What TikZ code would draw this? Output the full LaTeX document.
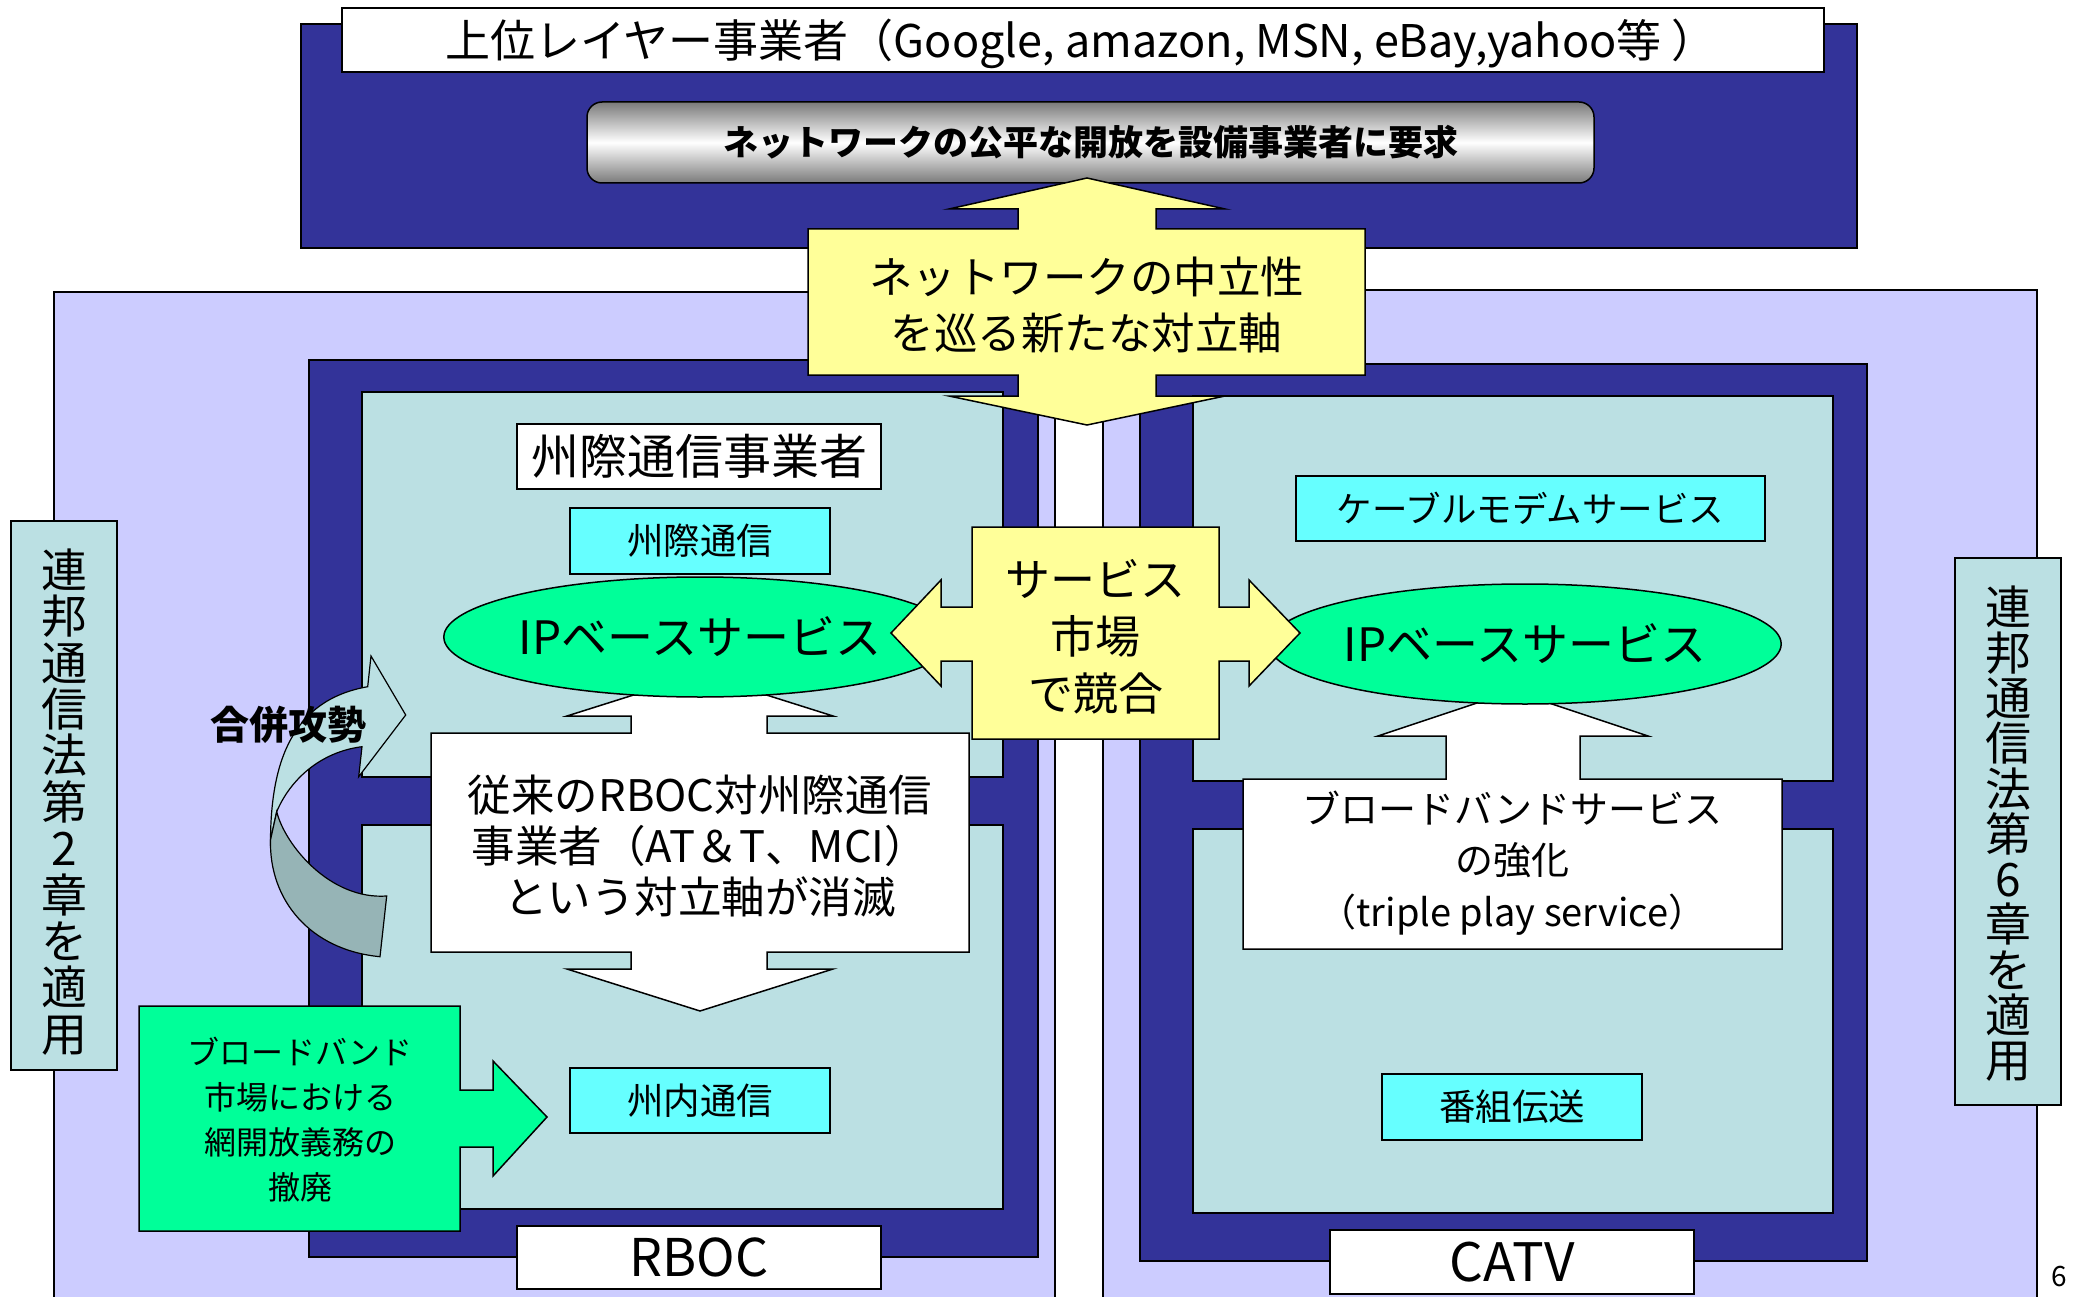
\documentclass[tikz,border=0pt]{standalone}
\usepackage{fontspec}
\newfontfamily\jp{Noto Sans CJK JP}
\usetikzlibrary{shapes.geometric}
\definecolor{dkblue}{HTML}{333399}
\definecolor{lav}{HTML}{CCCCFF}
\definecolor{tealbg}{HTML}{BBE0E3}
\definecolor{cyanbox}{HTML}{66FFFF}
\definecolor{grn}{HTML}{00FF99}
\definecolor{yel}{HTML}{FFFF99}
\definecolor{arrdark}{HTML}{96B4B6}
\definecolor{gradgray}{HTML}{7A7A7A}
\begin{document}
\begin{tikzpicture}[x=1pt,y=-1pt,
  bx/.style={draw=black,line width=1.5pt,inner sep=0pt,outer sep=0pt},
  shp/.style={draw=black,line width=1.5pt,line join=miter},
  fs/.style 2 args={font=\jp\fontsize{#1}{#2}\selectfont},
  txt/.style={align=center,inner sep=0pt}]
\useasboundingbox (0,0) rectangle (2078,1297);
\fill[white] (0,0) rectangle (2078,1297);

% top area
\node[bx,fill=dkblue,minimum width=1556pt,minimum height=224pt] (top) at (1079,136) {};
\node[bx,fill=white,minimum width=1482pt,minimum height=64pt] (hdr) at (1083,40) {};
\node[txt,fs={45}{50}] (hdrt) at (1081,44) {上位レイヤー事業者（Google, amazon, MSN, eBay,yahoo等 ）};
\node[bx,rounded corners=15pt,top color=gradgray,bottom color=gradgray,middle color=white,minimum width=1007pt,minimum height=81pt,fs={35}{40}] (demand) at (1090.5,142.5) {\bfseries ネットワークの公平な開放を設備事業者に要求};

% lavender areas
\node[bx,fill=lav,minimum width=1001pt,minimum height=1008pt] (lavL) at (554.5,796) {};
\node[bx,fill=lav,minimum width=934pt,minimum height=1010pt] (lavR) at (1570,795) {};

% RBOC / CATV frames
\node[bx,fill=dkblue,minimum width=729pt,minimum height=897pt] (rbocD) at (673.5,808.5) {};
\node[bx,fill=dkblue,minimum width=727pt,minimum height=897pt] (catvD) at (1503.5,812.5) {};
\node[bx,fill=tealbg,minimum width=641pt,minimum height=385pt] (rbocU) at (682.5,584.5) {};
\node[bx,fill=tealbg,minimum width=641pt,minimum height=384pt] (rbocL) at (682.5,1017) {};
\node[bx,fill=tealbg,minimum width=640pt,minimum height=385pt] (catvU) at (1513,588.5) {};
\node[bx,fill=tealbg,minimum width=640pt,minimum height=384pt] (catvL) at (1513,1021) {};

% side vertical boxes
\node[bx,fill=tealbg,minimum width=106pt,minimum height=549pt] (vL) at (64,795.5) {};
\node[txt,fs={46}{46.4}] (vLt) at (64,802) {連\\邦\\通\\信\\法\\第\\2\\章\\を\\適\\用};
\node[bx,fill=tealbg,minimum width=106pt,minimum height=547pt] (vR) at (2008,831.5) {};
\node[txt,fs={46}{45.3}] (vRt) at (2008,834) {連\\邦\\通\\信\\法\\第\\6\\章\\を\\適\\用};

% labels inside
\node[bx,fill=white,minimum width=364pt,minimum height=65pt,fs={48}{50}] (ixc) at (699,456.5) {州際通信事業者};
\node[bx,fill=cyanbox,minimum width=260pt,minimum height=66pt,fs={36.5}{40}] (ixcy) at (700,541) {州際通信};
\node[bx,fill=cyanbox,minimum width=260pt,minimum height=65pt,fs={36.5}{40}] (intra) at (700,1100.5) {州内通信};
\node[bx,fill=cyanbox,minimum width=469pt,minimum height=65pt,fs={35.5}{40}] (cable) at (1530.5,508.5) {ケーブルモデムサービス};
\node[bx,fill=cyanbox,minimum width=260pt,minimum height=66pt,fs={36.5}{40}] (prog) at (1512,1107) {番組伝送};

% white arrow (RBOC)
\draw[shp,fill=white] (431,733) -- (631,733) -- (631,716) -- (567,716) -- (700,674) -- (833,716) -- (767,716) -- (767,733) -- (969,733) -- (969,952) -- (767,952) -- (767,969) -- (833,969) -- (700,1011) -- (567,969) -- (631,969) -- (631,952) -- (431,952) -- cycle;
\node[txt,fs={43.5}{51}] (rbocx) at (700,846) {従来のRBOC対州際通信\\事業者（AT＆T、MCI）\\という対立軸が消滅};

% white arrow (CATV)
\draw[shp,fill=white] (1243,779) -- (1446,779) -- (1446,736) -- (1378,736) -- (1513,691) -- (1648,736) -- (1580,736) -- (1580,779) -- (1782,779) -- (1782,949) -- (1243,949) -- cycle;
\node[txt,fs={38}{51.5}] (catvx) at (1512.5,863) {ブロードバンドサービス\\の強化\\（triple play service）};

% ellipses
\node[bx,ellipse,fill=grn,minimum width=506pt,minimum height=120pt,fs={46}{50}] (ipL) at (700,637) {IPベースサービス};
\node[bx,ellipse,fill=grn,minimum width=502pt,minimum height=120pt,fs={46}{50}] (ipR) at (1525,644) {IPベースサービス};

% yellow vertical double arrow
\draw[shp,fill=yel] (808,229) -- (1018,229) -- (1018,209) -- (949,209) -- (1087,178) -- (1225,209) -- (1156,209) -- (1156,229) -- (1365,229) -- (1365,375) -- (1156,375) -- (1156,396) -- (1225,396) -- (1087,425) -- (949,396) -- (1018,396) -- (1018,375) -- (808,375) -- cycle;
\node[txt,fs={43.5}{56}] (neutral) at (1086.5,305) {ネットワークの中立性\\を巡る新たな対立軸};

% yellow horizontal double arrow
\draw[shp,fill=yel] (972,527) -- (1219,527) -- (1219,607) -- (1249,607) -- (1249,580) -- (1300,633) -- (1249,686) -- (1249,661) -- (1219,661) -- (1219,739) -- (972,739) -- (972,661) -- (941,661) -- (941,686) -- (891,633) -- (941,580) -- (941,607) -- (972,607) -- cycle;
\node[txt,fs={45}{57}] (market) at (1095.5,637) {サービス\\市場\\で競合};

% curved arrow
\draw[line width=1.2pt,fill=tealbg,line join=miter] (270.5,840) .. controls (271,762) and (292,700) .. (367.7,686.7) -- (371,656) -- (405.7,715) -- (358.7,776.7) -- (362,746.7) .. controls (320,752) and (290,780) .. (276.7,811.7) -- cycle;
\draw[line width=1.2pt,fill=arrdark,line join=miter] (270.5,840) -- (276.7,811.7) .. controls (285,845) and (330,900) .. (386.7,896) -- (380,956.7) .. controls (310,950) and (269,900) .. (270.5,840) -- cycle;
\node[txt,fs={39}{40}] (merge) at (288,725) {\bfseries 合併攻勢};

% green callout
\draw[shp,fill=grn] (139,1006) -- (460,1006) -- (460,1090) -- (493,1090) -- (493,1061) -- (547,1117) -- (493,1176) -- (493,1147) -- (460,1147) -- (460,1231) -- (139,1231) -- cycle;
\node[txt,fs={32}{45}] (open) at (300,1120) {ブロードバンド\\市場における\\網開放義務の\\撤廃};

% bottom labels
\node[bx,fill=white,minimum width=364pt,minimum height=63pt,fs={52}{54}] (rbocl) at (699,1257.5) {RBOC};
\node[bx,fill=white,minimum width=364pt,minimum height=64pt,fs={53}{54}] (catvl) at (1512,1262) {CATV};

\node[txt,fs={28}{30}] (pg) at (2059,1277) {6};
\end{tikzpicture}
\end{document}
